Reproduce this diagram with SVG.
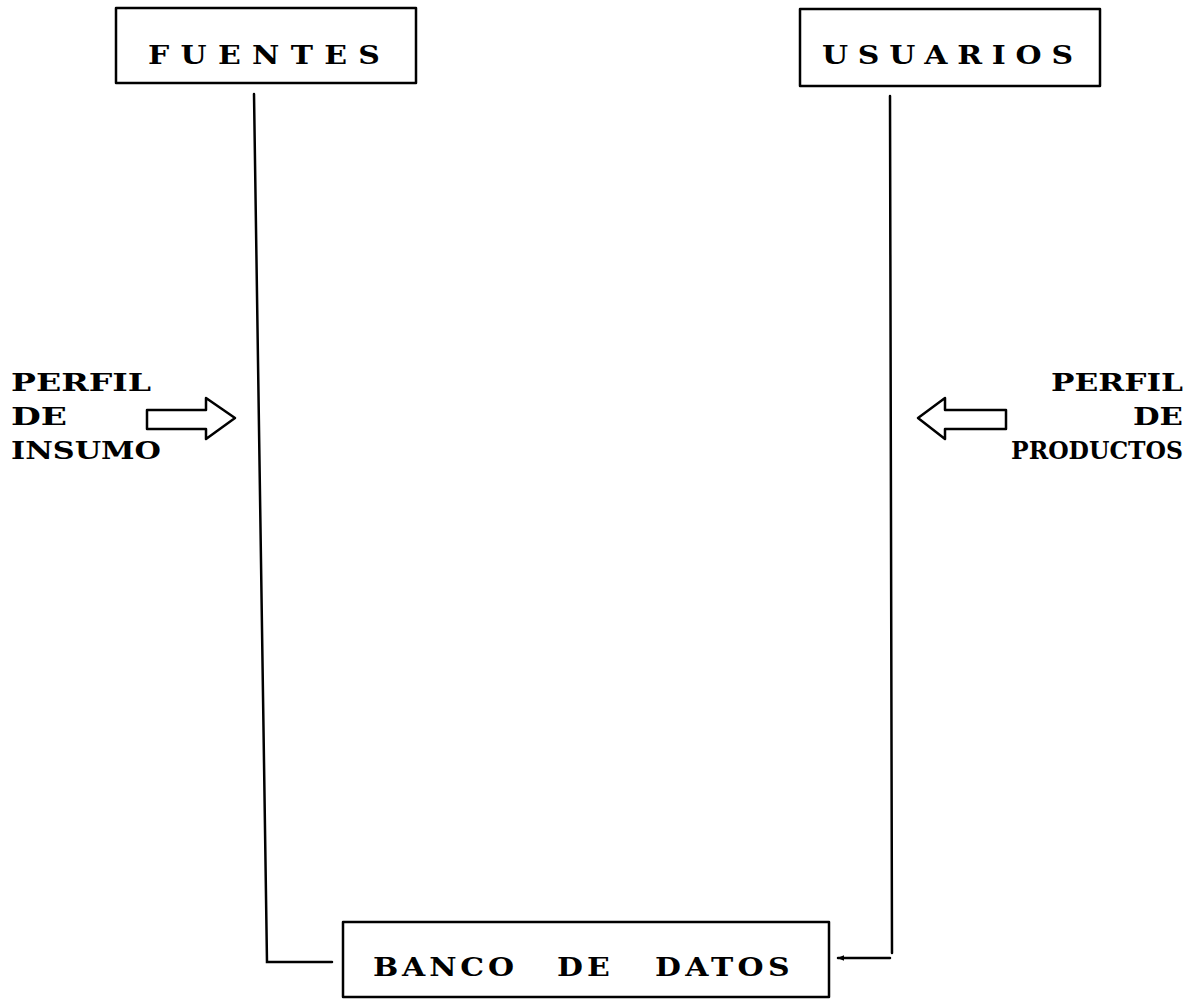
<svg xmlns="http://www.w3.org/2000/svg" width="1204" height="999" viewBox="0 0 1204 999">
  <defs>
    <style>
      .box { fill: none; stroke: #000; stroke-width: 2.5; stroke-linejoin: round; }
      .ln { fill: none; stroke: #000; stroke-width: 2.5; stroke-linecap: round; }
      .blk { fill: #fff; stroke: #000; stroke-width: 2.5; stroke-linejoin: round; }
      .t { font-family: "DejaVu Serif", "Liberation Serif", serif; font-weight: bold; font-size: 26px; fill: #000; }
      .lb { font-family: "DejaVu Serif", "Liberation Serif", serif; font-weight: bold; font-size: 25px; fill: #000; }
    </style>
    <marker id="ah" viewBox="0 0 10 10" refX="9" refY="5" markerWidth="7" markerHeight="7" orient="auto-start-reverse" markerUnits="userSpaceOnUse">
      <path d="M0,1 L10,5 L0,9 Z" fill="#000"/>
    </marker>
  </defs>
  <rect width="1204" height="999" fill="#fff"/>

  <g id="connectors">
    <path class="ln" d="M254,94 L267,962 L332,962"/>
    <path class="ln" d="M890,96 L892,953"/>
    <path class="ln" d="M890,958 L838,958" marker-end="url(#ah)"/>
  </g>

  <g id="fuentes">
    <rect class="box" x="116" y="8" width="300" height="75"/>
    <text class="t" transform="translate(148,64) scale(1.15,1)" textLength="201.7" lengthAdjust="spacing">FUENTES</text>
  </g>

  <g id="usuarios">
    <rect class="box" x="800" y="9" width="300" height="77"/>
    <text class="t" transform="translate(822,64) scale(1.15,1)" textLength="218.3" lengthAdjust="spacing">USUARIOS</text>
  </g>

  <g id="banco">
    <rect class="box" x="343" y="922" width="486" height="75"/>
    <text class="t" transform="translate(373,976) scale(1.15,1)" textLength="122.6" lengthAdjust="spacing">BANCO</text>
    <text class="t" transform="translate(557,976) scale(1.15,1)" textLength="46" lengthAdjust="spacing">DE</text>
    <text class="t" transform="translate(655,976) scale(1.15,1)" textLength="117" lengthAdjust="spacing">DATOS</text>
  </g>

  <g id="perfil-insumo">
    <text class="lb" x="11" y="391" textLength="140" lengthAdjust="spacingAndGlyphs">PERFIL</text>
    <text class="lb" x="11" y="425" textLength="56" lengthAdjust="spacingAndGlyphs">DE</text>
    <text class="lb" x="11" y="459" textLength="150" lengthAdjust="spacingAndGlyphs">INSUMO</text>
    <path class="blk" d="M147,410 L206,410 L206,398 L235,418 L206,439 L206,429 L147,429 Z"/>
  </g>

  <g id="perfil-productos">
    <text class="lb" x="1183" y="391" text-anchor="end" textLength="132" lengthAdjust="spacingAndGlyphs">PERFIL</text>
    <text class="lb" x="1183" y="425" text-anchor="end" textLength="50" lengthAdjust="spacingAndGlyphs">DE</text>
    <text class="lb" x="1183" y="459" text-anchor="end" textLength="172" lengthAdjust="spacingAndGlyphs">PRODUCTOS</text>
    <path class="blk" d="M1006,410 L945,410 L945,398 L918,418 L945,439 L945,429 L1006,429 Z"/>
  </g>
</svg>
